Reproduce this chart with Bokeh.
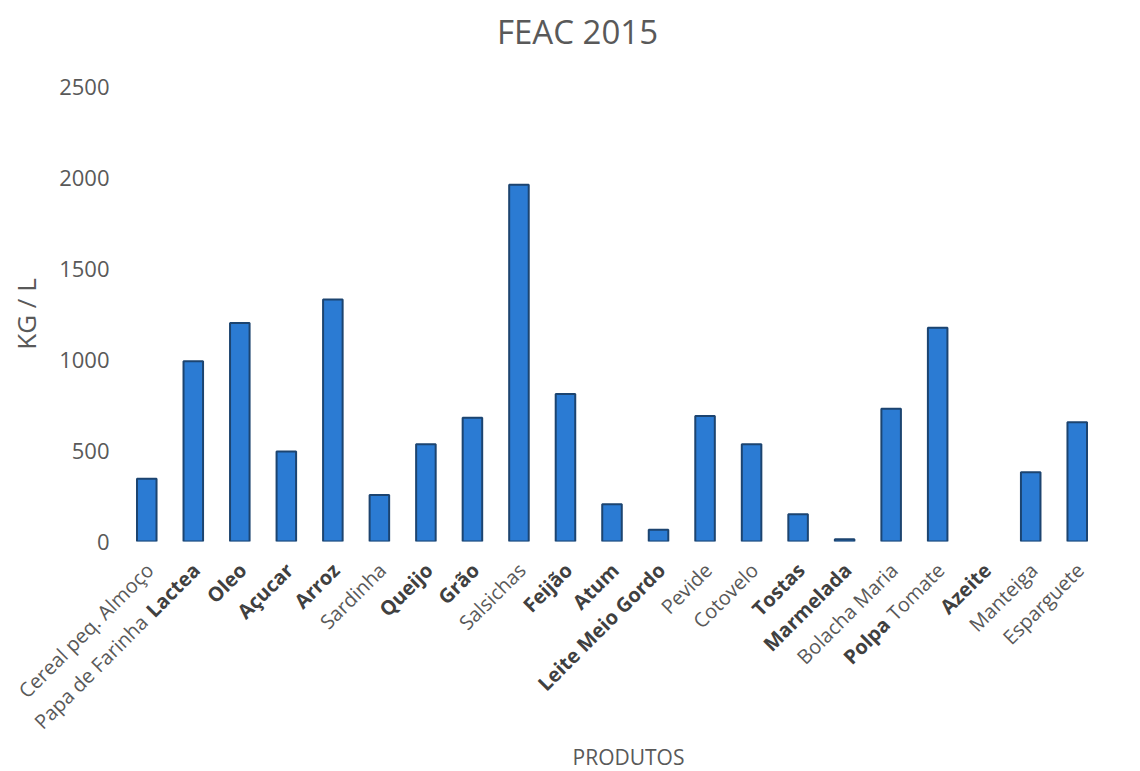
import math
from bokeh.plotting import figure
from bokeh.layouts import column
from bokeh.models import ColumnDataSource, FactorRange, Range1d, FixedTicker
from bokeh.core.properties import value
from bokeh.embed import file_html
from bokeh.resources import INLINE

# ---- data ----
produtos = ["Cereal peq. Almoço", "Papa de Farinha Lactea", "Oleo", "Açucar", "Arroz",
            "Sardinha", "Queijo", "Grão", "Salsichas", "Feijão", "Atum",
            "Leite Meio Gordo", "Pevide", "Cotovelo", "Tostas", "Marmelada",
            "Bolacha Maria", "Polpa Tomate", "Azeite", "Manteiga", "Esparguete"]
kg_l = [345, 990, 1200, 495, 1330, 255, 535, 680, 1960, 810, 205,
        65, 690, 535, 150, 12, 730, 1175, 0, 380, 655]
y_ticks = [0, 500, 1000, 1500, 2000, 2500]
titulo = "FEAC 2015"
eixo_x = "PRODUTOS"
eixo_y = "KG / L"

bold_labels = {"Oleo", "Açucar", "Arroz", "Queijo", "Grão", "Feijão", "Atum",
               "Leite Meio Gordo", "Tostas", "Marmelada", "Azeite"}

# ---- layout constants ----
FONT = "Open Sans"
LBL_PX = 20
GREY = "#595959"
DARK = "#404040"
W = 1140
TOP_H = 70          # title strip
MAIN_H = 485        # bars (frame bottom at 541 on the page)
BOT_H = 771 - TOP_H - MAIN_H   # category labels strip
BOT_Y0 = TOP_H + MAIN_H
LEFT, RIGHT = 123, 40
N = len(produtos)
CAT_PX = (W - LEFT - RIGHT) / N


def strip(height, xr, yr):
    fig = figure(width=W, height=height, x_range=xr, y_range=yr,
                 x_axis_type=None, y_axis_type=None,
                 output_backend="svg", toolbar_location=None,
                 min_border_left=0, min_border_right=0,
                 min_border_top=0, min_border_bottom=0)
    fig.outline_line_color = None
    fig.grid.visible = False
    fig.frame_align = False
    return fig


# ---- title strip ----
p0 = strip(TOP_H, Range1d(0, W), Range1d(-TOP_H, 0))
p0.text(x=[577], y=[-31], text=[titulo], text_font=value(FONT), text_font_size="33px",
        text_color=GREY, text_align="center", text_baseline="middle")

# ---- main bars ----
src = ColumnDataSource(dict(
    x=produtos, top=kg_l,
    lalpha=[0.0 if v == 0 else 1.0 for v in kg_l],
))

p = figure(x_range=FactorRange(factors=produtos, range_padding=0),
           y_range=Range1d(0, 2500),
           width=W, height=MAIN_H, output_backend="svg", toolbar_location=None,
           min_border_left=LEFT, min_border_right=RIGHT, min_border_top=16,
           min_border_bottom=MAIN_H - (541 - TOP_H))
p.frame_align = False
p.vbar(x="x", top="top", width=0.42, source=src, fill_color="#2B7BD3",
       line_color="#1C4470", line_width=2, line_alpha="lalpha")

p.outline_line_color = None
p.xgrid.grid_line_color = None
p.ygrid.grid_line_color = None
p.xaxis.visible = False

p.yaxis.ticker = FixedTicker(ticks=y_ticks)
p.yaxis.axis_line_color = None
p.yaxis.major_tick_line_color = None
p.yaxis.minor_tick_line_color = None
p.yaxis.major_label_text_font = FONT
p.yaxis.major_label_text_font_size = "22px"
p.yaxis.major_label_text_color = GREY
p.yaxis.major_label_standoff = 8
p.yaxis.axis_label = eixo_y
p.yaxis.axis_label_text_font = FONT
p.yaxis.axis_label_text_font_size = "26px"
p.yaxis.axis_label_text_font_style = "normal"
p.yaxis.axis_label_text_color = GREY
p.yaxis.axis_label_standoff = 12

# ---- category labels strip (x in category units, aligned with the bars) ----
p2 = strip(BOT_H, Range1d(-LEFT / CAT_PX, N + RIGHT / CAT_PX), Range1d(-BOT_H, 0))

ang = math.pi / 4
c = math.cos(ang)
base_dx, base_dy = 3, 566 - BOT_Y0   # label end: right of bar centre / below strip top
pieces = []  # (index, text, bold, shift_px along text direction)
for i, cat in enumerate(produtos):
    if cat == "Papa de Farinha Lactea":
        pieces.append((i, "Lactea", True, 0))
        pieces.append((i, "Papa de Farinha", False, (3.29 + 0.4) * LBL_PX))
    elif cat == "Polpa Tomate":
        pieces.append((i, "Tomate", False, 0))
        pieces.append((i, "Polpa", True, (3.55 + 0.3) * LBL_PX))
    else:
        pieces.append((i, cat, cat in bold_labels, 0))

for bold in (False, True):
    sel = [pc for pc in pieces if pc[2] == bold]
    ls = ColumnDataSource(dict(
        x=[pc[0] + 0.5 + (base_dx - pc[3] * c) / CAT_PX for pc in sel],
        y=[-(base_dy + pc[3] * c) for pc in sel],
        t=[pc[1] for pc in sel],
    ))
    p2.text(x="x", y="y", text="t", source=ls, angle=ang,
            text_align="right", text_baseline="middle",
            text_font=value(FONT), text_font_size=f"{LBL_PX}px",
            text_font_style="bold" if bold else "normal",
            text_color=DARK if bold else GREY)

p2.text(x=[(628 - LEFT) / CAT_PX], y=[-(756 - BOT_Y0)], text=[eixo_x],
        text_font=value(FONT), text_font_size="21px", text_color=GREY,
        text_align="center", text_baseline="middle")

layout = column(p0, p, p2, spacing=0)
open("out.html", "w").write(file_html(layout, INLINE))
